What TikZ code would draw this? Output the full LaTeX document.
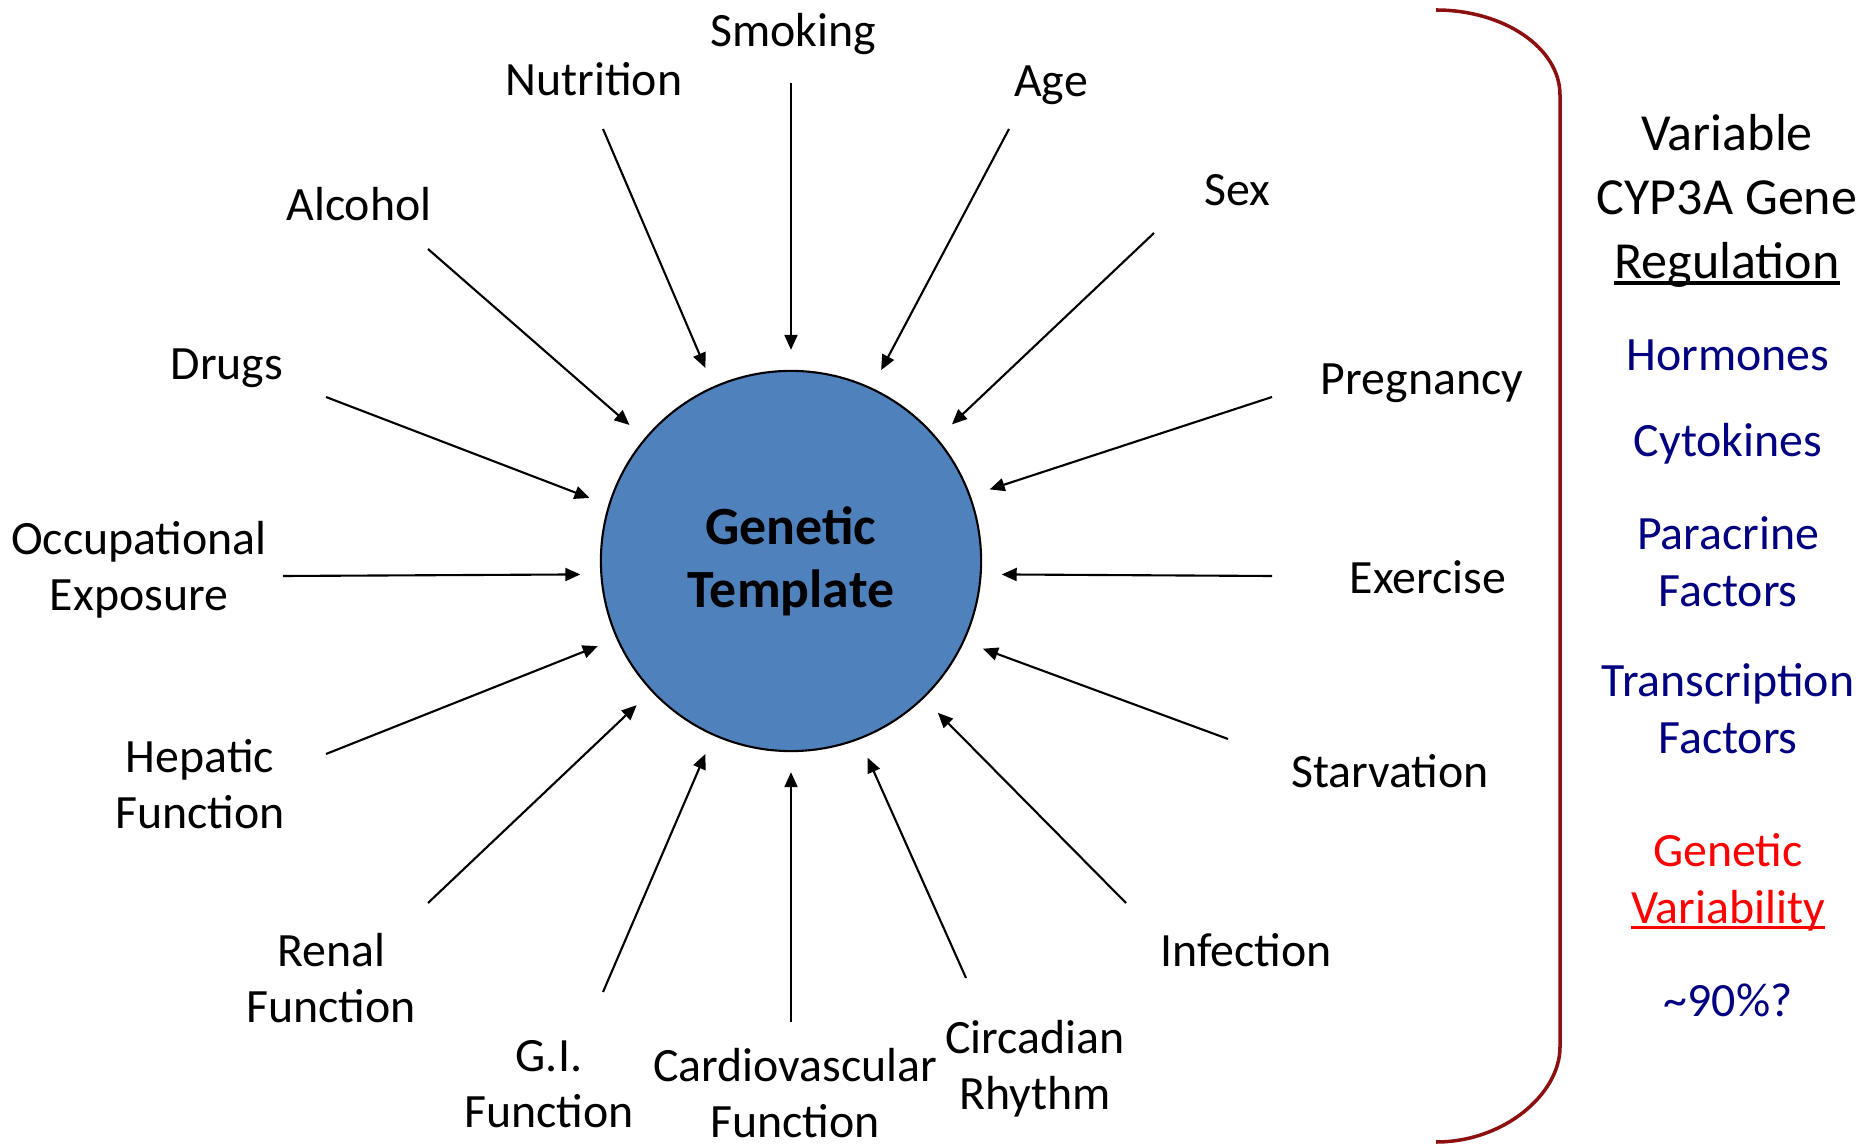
\documentclass[tikz,border=0pt]{standalone}
\usepackage{fontspec}
\setmainfont{Carlito}
\usepackage{xcolor}
\usepackage{tikz}
\usetikzlibrary{arrows.meta, positioning}
\definecolor{templatefill}{HTML}{4F81BD}
\definecolor{bracered}{HTML}{8C1010}
\definecolor{factornavy}{HTML}{000080}
\definecolor{geneticred}{HTML}{FF0000}
% heavier underline than \underline gives
\newcommand{\thickrule}[1]{\leavevmode\setbox0\hbox{#1}\rlap{\vrule height -0.9pt depth 1.8pt width \wd0}\box0}
\tikzset{
    factor/.style={
        font=\fontsize{13.6}{16}\selectfont, text=black,
        align=center, inner sep=0pt
    },
    template/.style={
        circle, draw=black, fill=templatefill, line width=0.6pt,
        minimum size=3.8cm, inner sep=0pt,
        font=\fontsize{15.3}{18}\selectfont\bfseries, align=center
    },
    feedarrow/.style={
        -{Triangle[length=0.15cm, width=0.13cm]}, line width=0.6pt,
        shorten >=0.2cm
    },
    reghead/.style={
        font=\fontsize{14.8}{18.1}\selectfont, text=black,
        align=center, inner sep=0pt
    },
    regitem/.style={
        font=\fontsize{13.6}{16.2}\selectfont, text=#1,
        align=center, inner sep=0pt
    },
    regitem/.default=factornavy,
    bracket/.style={
        draw=bracered, line width=1pt
    },
}

\begin{document}
\begin{tikzpicture}[x=0.01cm, y=-0.01cm]
    \useasboundingbox (0,0) rectangle (1866,1146);

    % Centre
    \node[template] (gt) at (791,561) {Genetic\\Template};

    % Influences
    \node[factor] (smoking) at (793,34) {Smoking};
    \node[factor] (nutrition) at (594,79) {Nutrition};
    \node[factor] (age) at (1051,85) {Age};
    \node[factor] (alcohol) at (359,204) {Alcohol};
    \node[factor] (sex) at (1237,190) {Sex};
    \node[factor] (drugs) at (227,368) {Drugs};
    \node[factor] (pregnancy) at (1422,383) {Pregnancy};
    \node[factor] (occupational) at (139,570) {Occupational\\Exposure};
    \node[factor] (exercise) at (1428,577) {Exercise};
    \node[factor] (hepatic) at (200,784) {Hepatic\\Function};
    \node[factor] (starvation) at (1390,771) {Starvation};
    \node[factor] (renal) at (331,978) {Renal\\Function};
    \node[factor] (infection) at (1246,950) {Infection};
    \node[factor] (gi) at (549,1084) {G.I.\\Function};
    \node[factor] (cardio) at (795,1093) {Cardiovascular\\Function};
    \node[factor] (circadian) at (1035,1069) {Circadian\\Rhythm};

    % Arrow tails
    \coordinate (smoking-tail) at (791,83);
    \coordinate (nutrition-tail) at (603,129);
    \coordinate (age-tail) at (1009,129);
    \coordinate (alcohol-tail) at (428,249);
    \coordinate (sex-tail) at (1154,233);
    \coordinate (drugs-tail) at (326,397);
    \coordinate (pregnancy-tail) at (1272,397);
    \coordinate (occupational-tail) at (283,576);
    \coordinate (exercise-tail) at (1272,576);
    \coordinate (hepatic-tail) at (326,754);
    \coordinate (starvation-tail) at (1228,739);
    \coordinate (renal-tail) at (428,903);
    \coordinate (infection-tail) at (1126,903);
    \coordinate (gi-tail) at (603,992);
    \coordinate (cardio-tail) at (791,1022);
    \coordinate (circadian-tail) at (966,978);

    % Arrows into the template
    \foreach \f/\a in {smoking/90, nutrition/114, age/65, alcohol/140,
                       sex/40, drugs/163, pregnancy/20, occupational/184,
                       exercise/356, hepatic/204, starvation/335, renal/223,
                       infection/314, gi/246, cardio/270, circadian/291}
        \draw[feedarrow] (\f-tail) -- (gt.\a);

    % Bracket
    \draw[bracket] (1436,10) .. controls (1504,10) and (1560,48) .. (1560,95)
        -- (1560,1047) .. controls (1560,1094) and (1504,1142) .. (1436,1142);

    % Regulation column
    \node[reghead] (reg) at (1727,201) {Variable\\CYP3A Gene\\\thickrule{Regulation}};
    \node[regitem] (hormones) at (1728,355) {Hormones};
    \node[regitem] (cytokines) at (1728,444) {Cytokines};
    \node[regitem] (paracrine) at (1728,562) {Paracrine\\Factors};
    \node[regitem] (transcription) at (1728,709) {Transcription\\Factors};
    \node[regitem=geneticred] (genvar) at (1728,882) {Genetic\\\thickrule{Variability}};
    \node[regitem] (share) at (1728,1000) {\textasciitilde90\%?};

\end{tikzpicture}
\end{document}
